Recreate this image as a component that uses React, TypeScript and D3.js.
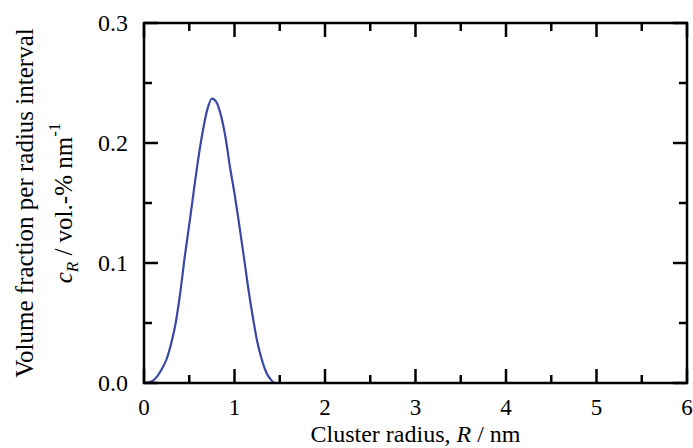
import React from 'react';
import { scaleLinear, line, curveMonotoneX, range } from 'd3';

// radius values (nm) and volume fraction
const radius = [0, 0.05, 0.1, 0.15, 0.2, 0.25, 0.3, 0.35, 0.4, 0.45, 0.5, 0.55, 0.6, 0.65, 0.7, 0.75,
  0.8, 0.85, 0.9, 0.95, 1.0, 1.05, 1.1, 1.15, 1.2, 1.25, 1.3, 1.35, 1.4, 1.45, 2, 3, 4, 5, 6];
const fraction = [0, 0.0005, 0.002, 0.006, 0.012, 0.02, 0.033, 0.05, 0.075, 0.105, 0.132, 0.16, 0.187,
  0.21, 0.228, 0.237, 0.234, 0.223, 0.205, 0.18, 0.158, 0.133, 0.107, 0.08, 0.056, 0.035, 0.02, 0.009,
  0.003, 0, 0, 0, 0, 0, 0];

const xTicks = [0, 1, 2, 3, 4, 5, 6];
const yTicks = [0.0, 0.1, 0.2, 0.3];

const width = 693;
const height = 448;
const margin = { top: 23, right: 6, bottom: 65, left: 144 };
const font = '"Liberation Serif", "Times New Roman", serif';

const App = () => {
  const x = scaleLinear().domain([0, 6]).range([margin.left, width - margin.right]);
  const y = scaleLinear().domain([0, 0.3]).range([height - margin.bottom, margin.top]);

  const x0 = x.range()[0];
  const x1 = x.range()[1];
  const y0 = y.range()[0];
  const y1 = y.range()[1];

  const data = radius.map((r, i) => ({ r, c: fraction[i] }));
  const path = line<{ r: number, c: number }>()
    .x(d => x(d.r))
    .y(d => y(d.c))
    .curve(curveMonotoneX)(data);

  const xMinor = range(0.5, 6, 1);
  const yMinor = range(0.05, 0.3, 0.1);
  const major = 14;
  const minor = 8;
  const cy = (y0 + y1) / 2;

  return (
    <svg width={width} height={height} style={{ position: 'absolute', left: 0, top: 0, background: '#fff' }}>
      <path d={path || ''} fill="none" stroke="#3b47a6" strokeWidth={2.2} />

      {/* ticks on all four sides, pointing inward */}
      {xTicks.map(t => (
        <g key={'x' + t}>
          <line x1={x(t)} x2={x(t)} y1={y0} y2={y0 - major} stroke="black" strokeWidth={2.5} />
          <line x1={x(t)} x2={x(t)} y1={y1} y2={y1 + major} stroke="black" strokeWidth={2.5} />
          <text x={x(t)} y={y0 + 32} textAnchor="middle" fontFamily={font} fontSize={23}>{t}</text>
        </g>
      ))}
      {xMinor.map(t => (
        <g key={'xm' + t}>
          <line x1={x(t)} x2={x(t)} y1={y0} y2={y0 - minor} stroke="black" strokeWidth={2.5} />
          <line x1={x(t)} x2={x(t)} y1={y1} y2={y1 + minor} stroke="black" strokeWidth={2.5} />
        </g>
      ))}
      {yTicks.map(t => (
        <g key={'y' + t}>
          <line x1={x0} x2={x0 + major} y1={y(t)} y2={y(t)} stroke="black" strokeWidth={2.5} />
          <line x1={x1} x2={x1 - major} y1={y(t)} y2={y(t)} stroke="black" strokeWidth={2.5} />
          <text x={x0 - 16} y={y(t) + 8} textAnchor="end" fontFamily={font} fontSize={24}>{t.toFixed(1)}</text>
        </g>
      ))}
      {yMinor.map(t => (
        <g key={'ym' + t}>
          <line x1={x0} x2={x0 + minor} y1={y(t)} y2={y(t)} stroke="black" strokeWidth={2.5} />
          <line x1={x1} x2={x1 - minor} y1={y(t)} y2={y(t)} stroke="black" strokeWidth={2.5} />
        </g>
      ))}

      <rect x={x0} y={y1} width={x1 - x0} height={y0 - y1} fill="none" stroke="black" strokeWidth={2.5} />

      <text x={(x0 + x1) / 2} y={442} textAnchor="middle" fontFamily={font} fontSize={24}>
        Cluster radius, <tspan fontStyle="italic">R</tspan> / nm
      </text>

      <text transform={`translate(33, ${cy}) rotate(-90)`} textAnchor="middle" fontFamily={font} fontSize={25}>
        Volume fraction per radius interval
      </text>
      <text transform={`translate(72, ${cy}) rotate(-90)`} textAnchor="middle" fontFamily={font} fontSize={25}>
        <tspan fontStyle="italic">c</tspan>
        <tspan fontStyle="italic" fontSize={17} dy={6}>R</tspan>
        <tspan dy={-6}> / vol.-% nm</tspan>
        <tspan fontSize={17} dy={-12}>-1</tspan>
      </text>
    </svg>
  );
};

export default App;
